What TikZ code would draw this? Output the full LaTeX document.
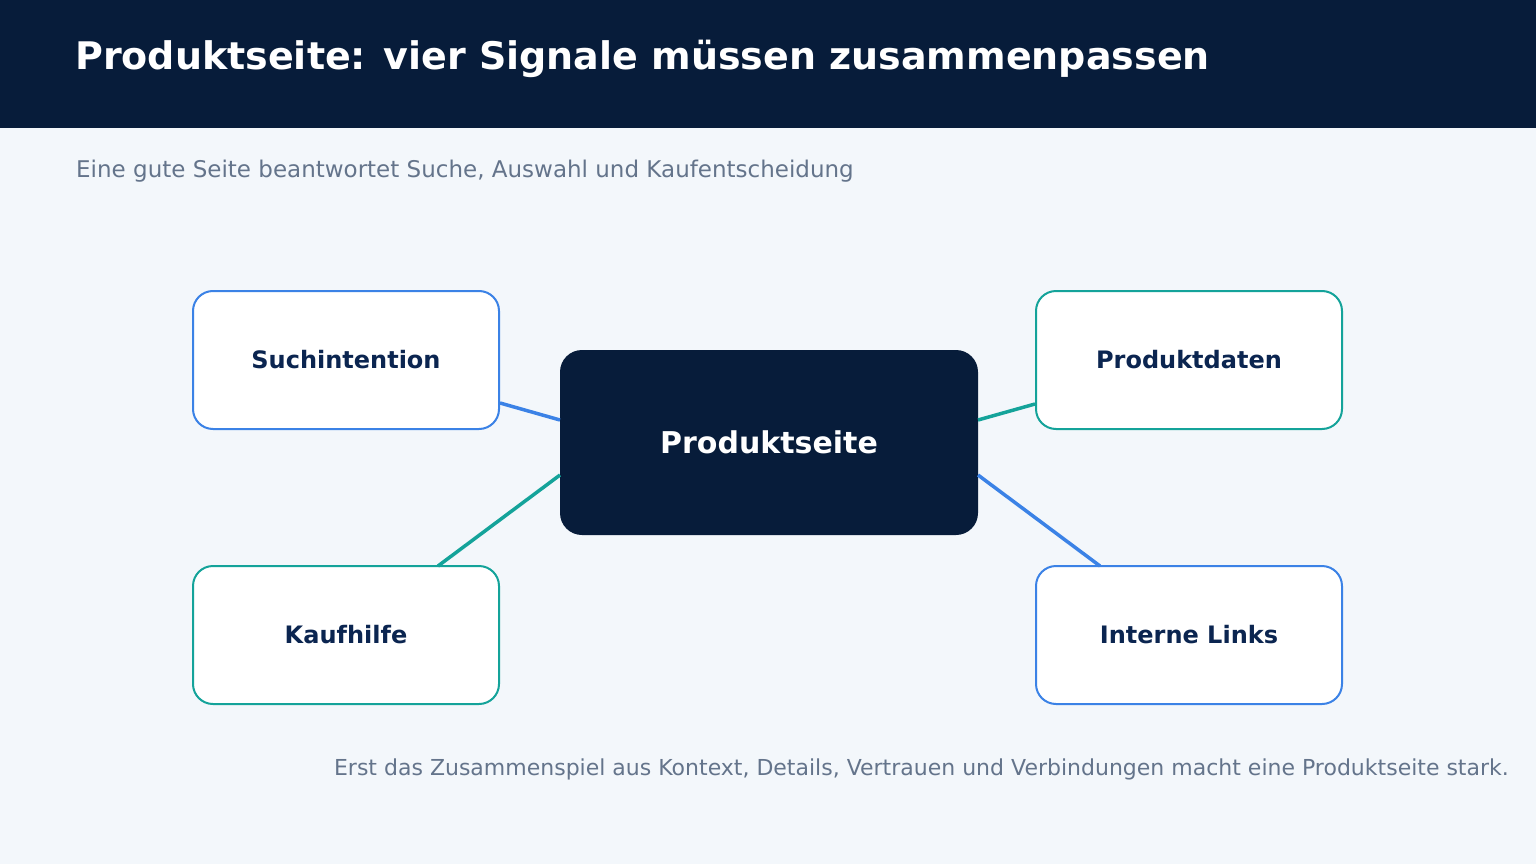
\documentclass[tikz,border=0pt]{standalone}
\usepackage{fontspec}
\setmainfont{DejaVu Sans}
\definecolor{navy}{HTML}{071C3A}
\definecolor{bg}{HTML}{F3F7FB}
\definecolor{blu}{HTML}{3B82E6}
\definecolor{teal}{HTML}{14A39A}
\definecolor{gray}{HTML}{64748B}
\definecolor{dtext}{HTML}{0B2550}
\begin{document}
\begin{tikzpicture}[x=1pt,y=-1pt,
  box/.style={draw=#1,line width=2pt,fill=white,rounded corners=20pt,minimum width=306pt,minimum height=138pt,font=\fontsize{24}{28}\selectfont\bfseries,text=dtext},
  con/.style={draw=#1,line width=3.5pt}]
\useasboundingbox (0,0) rectangle (1536,864);
\fill[bg] (0,0) rectangle (1536,864);
\fill[navy] (0,0) rectangle (1536,128);
\node[anchor=base west,text=white,font=\fontsize{38}{44}\selectfont\bfseries,inner sep=0] (title) at (75,70) {Produktseite: vier Signale müssen zusammenpassen};
\node[anchor=west,text=gray,font=\fontsize{23}{27}\selectfont,inner sep=0] (sub) at (76,171) {Eine gute Seite beantwortet Suche, Auswahl und Kaufentscheidung};
\node[box=blu] (such) at (346,360) {\raisebox{-2pt}{Suchintention}};
\node[box=teal] (prod) at (1189,360) {\raisebox{-2pt}{Produktdaten}};
\node[box=teal] (kauf) at (346,635) {\raisebox{-2pt}{Kaufhilfe}};
\node[box=blu] (links) at (1189,635) {\raisebox{-2pt}{Interne Links}};
\node[fill=navy,rounded corners=22pt,minimum width=418pt,minimum height=185pt,text=white,font=\fontsize{30}{34}\selectfont\bfseries] (mid) at (769,442.5) {\raisebox{-2pt}{Produktseite}};
\coordinate (a1) at (500,403); \coordinate (a2) at (560,420);
\coordinate (b1) at (1035,404); \coordinate (b2) at (978,420);
\coordinate (c1) at (438,566); \coordinate (c2) at (560,475);
\coordinate (d1) at (1100,566); \coordinate (d2) at (978,475);
\draw[con=blu] (a1) -- (a2);
\draw[con=teal] (b1) -- (b2);
\draw[con=teal] (c1) -- (c2);
\draw[con=blu] (d1) -- (d2);
\node[anchor=east,text=gray,font=\fontsize{22}{26}\selectfont,inner sep=0] (foot) at (1509,769) {Erst das Zusammenspiel aus Kontext, Details, Vertrauen und Verbindungen macht eine Produktseite stark.};
\end{tikzpicture}
\end{document}
